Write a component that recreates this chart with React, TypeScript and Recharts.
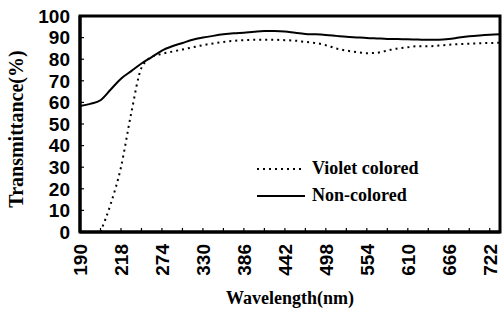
import React from "react";
import {
    LineChart,
    Line,
    XAxis,
    YAxis,
    Legend,
    ReferenceArea,
} from "recharts";

// wavelength categories (nm); spacing follows the even label spacing of the original
const wavelengths = [
    190, 197, 204, 211, 218, 232, 246, 260, 274, 288, 302, 316, 330, 344, 358,
    372, 386, 400, 414, 428, 442, 456, 470, 484, 498, 512, 526, 540, 554, 568,
    582, 596, 610, 624, 638, 652, 666, 680, 694, 708, 722, 736,
];

const xLabels = [190, 218, 274, 330, 386, 442, 498, 554, 610, 666, 722];
const yTicks = [0, 10, 20, 30, 40, 50, 60, 70, 80, 90, 100];
const seriesNames = ["Violet colored", "Non-colored"];

const violet = [
    null, null, 0, 13, 30, 55, 76, 81, 82.5, 83.5, 84.5, 85.5, 86.5, 87.3, 88,
    88.5, 88.8, 89, 89, 89, 88.8, 88.6, 88, 87.5, 86.5, 85, 84, 83.3, 82.8, 83,
    84, 85, 85.5, 86, 86, 86.3, 86.7, 87, 87.2, 87.4, 87.5, 87.6,
];

const nonColored = [
    58.3, 59.3, 61, 66, 71, 74.5, 78, 81, 84, 86, 87.5, 89, 90, 90.8, 91.5, 92,
    92.3, 92.7, 93, 93, 92.8, 92.2, 91.7, 91.5, 91.2, 90.8, 90.4, 90.1, 89.8,
    89.6, 89.4, 89.3, 89.2, 89.1, 89, 89, 89.3, 90, 90.6, 91, 91.3, 91.5,
];

const data = wavelengths.map((w, i) => ({
    w,
    violet: violet[i],
    nonColored: nonColored[i],
}));

const sans = "'Liberation Sans', Arial, sans-serif";
const serif = "'Liberation Serif', 'Times New Roman', serif";

function XTick(props: any) {
    const { x, y, payload, index } = props;
    const axisY = y - 10;
    return (
        <g>
            {index % 2 === 0 && (
                <line x1={x} x2={x} y1={axisY} y2={axisY - 4} stroke="#000" strokeWidth={1.2} />
            )}
            {xLabels.includes(payload.value) && (
                <text
                    x={x}
                    y={y + 2}
                    dy="0.36em"
                    transform={`rotate(-90 ${x} ${y + 2})`}
                    textAnchor="end"
                    fontFamily={sans}
                    fontWeight="bold"
                    fontSize={19}
                    fill="#000"
                >
                    {payload.value}
                </text>
            )}
        </g>
    );
}

function YTick(props: any) {
    const { x, y, payload } = props;
    return (
        <g>
            <line x1={x + 10} x2={x + 14} y1={y} y2={y} stroke="#000" strokeWidth={1.2} />
            <text
                x={x}
                y={y}
                dy="0.36em"
                textAnchor="end"
                fontFamily={sans}
                fontWeight="bold"
                fontSize={19}
                fill="#000"
            >
                {payload.value}
            </text>
        </g>
    );
}

function YTitle(props: any) {
    const { viewBox } = props;
    const cx = viewBox.x + 16;
    const cy = viewBox.y + 113;
    return (
        <text
            x={cx}
            y={cy}
            dy="0.35em"
            transform={`rotate(-90 ${cx} ${cy})`}
            textAnchor="middle"
            fontFamily={serif}
            fontWeight="bold"
            fontSize={20}
            fill="#000"
        >
            Transmittance(%)
        </text>
    );
}

function XTitle(props: any) {
    const { viewBox } = props;
    return (
        <text
            x={viewBox.x + viewBox.width / 2}
            y={viewBox.y + 72}
            textAnchor="middle"
            fontFamily={serif}
            fontWeight="bold"
            fontSize={18}
            fill="#000"
        >
            Wavelength(nm)
        </text>
    );
}

function LegendBox(props: any) {
    const items = [...(props.payload || [])].sort(
        (a: any, b: any) => seriesNames.indexOf(a.value) - seriesNames.indexOf(b.value)
    );
    return (
        <div style={{ fontFamily: serif, fontWeight: "bold", fontSize: 18 }}>
            {items.map((entry: any) => (
                <div
                    key={entry.value}
                    style={{ display: "flex", alignItems: "center", height: 27, whiteSpace: "nowrap" }}
                >
                    <svg width={50} height={10} style={{ marginRight: 5, flexShrink: 0 }}>
                        <line
                            x1={0}
                            x2={48}
                            y1={5}
                            y2={5}
                            stroke="#000"
                            strokeWidth={2}
                            strokeDasharray={entry.payload?.strokeDasharray}
                        />
                    </svg>
                    <span>{entry.value}</span>
                </div>
            ))}
        </div>
    );
}

export default function App() {
    return (
        <div style={{ position: "absolute", left: 0, top: 0, background: "#fff" }}>
            <LineChart
                width={503}
                height={309}
                data={data}
                margin={{ top: 16, right: 3, bottom: 0, left: 0 }}
            >
                <XAxis
                    dataKey="w"
                    type="category"
                    interval={0}
                    height={77}
                    tickSize={0}
                    tickMargin={10}
                    tickLine={false}
                    axisLine={{ stroke: "#000", strokeWidth: 3 }}
                    tick={<XTick />}
                    label={<XTitle />}
                />
                <YAxis
                    type="number"
                    domain={[0, 100]}
                    ticks={yTicks}
                    interval={0}
                    width={80}
                    tickSize={0}
                    tickMargin={10}
                    tickLine={false}
                    axisLine={{ stroke: "#000", strokeWidth: 3 }}
                    tick={<YTick />}
                    label={<YTitle />}
                />
                <ReferenceArea
                    x1={190}
                    x2={736}
                    y1={0}
                    y2={100}
                    fill="none"
                    stroke="#000"
                    strokeWidth={3}
                />
                <Line
                    name="Violet colored"
                    type="monotone"
                    dataKey="violet"
                    stroke="#000"
                    strokeWidth={2}
                    strokeDasharray="2 4"
                    dot={false}
                    connectNulls={false}
                    isAnimationActive={false}
                />
                <Line
                    name="Non-colored"
                    type="monotone"
                    dataKey="nonColored"
                    stroke="#000"
                    strokeWidth={2}
                    dot={false}
                    isAnimationActive={false}
                />
                <Legend
                    layout="vertical"
                    align="right"
                    verticalAlign="middle"
                    content={<LegendBox />}
                    wrapperStyle={{ position: "absolute", left: 257, top: 155, width: 0 }}
                />
            </LineChart>
        </div>
    );
}
